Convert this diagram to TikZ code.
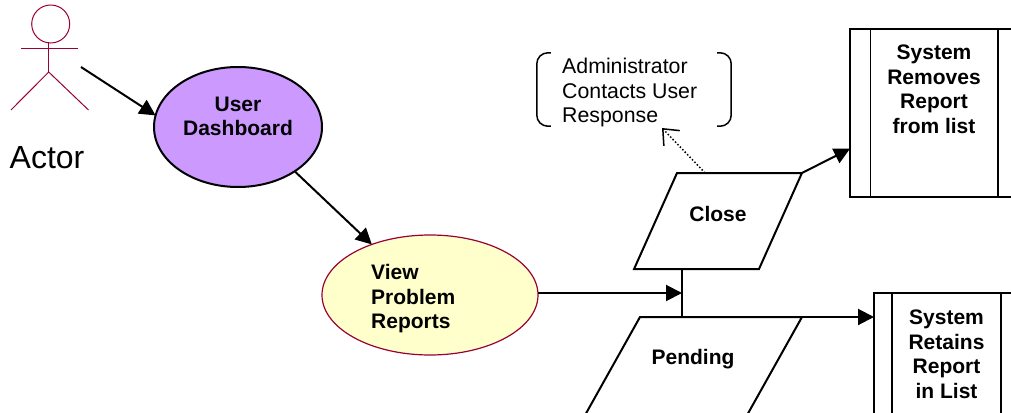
\documentclass[tikz,border=0pt]{standalone}
\usepackage{fontspec}
\setmainfont{Liberation Sans}
\usetikzlibrary{positioning, arrows.meta, shapes.geometric}
\definecolor{lilac}{HTML}{CC99FF}
\definecolor{paleyellow}{HTML}{FFFFCC}
\definecolor{crimson}{HTML}{990033}
\tikzset{arrw/.style={line width=2pt, -{Triangle[length=16pt,width=16pt]}}}
\tikzset{dotarrw/.style={line width=1.5pt, dotted, -{Straight Barb[length=13pt,width=22pt]}}}
\tikzset{plainline/.style={line width=2pt}}
\tikzset{stickman/.style={draw=crimson, line width=1pt}}
\tikzset{usecase/.style={draw, ellipse, inner sep=0pt, outer sep=0pt}}
\tikzset{para/.style={draw, trapezium, line width=2pt, inner sep=0pt, outer sep=0pt, fill=white, text depth=0pt}}
\tikzset{procbox/.style={draw, rectangle, line width=2pt, inner sep=0pt, outer sep=0pt, minimum width=#1, minimum height=168pt}}
\tikzset{boldtxt/.style={font=\fontsize{21}{24.5}\selectfont\bfseries, align=center, inner sep=0pt}}
\tikzset{plaintxt/.style={font=\fontsize{21.3}{24.5}\selectfont, align=left, inner sep=0pt}}

\begin{document}
\begin{tikzpicture}[x=1pt, y=-1pt]
    \useasboundingbox (0,0) rectangle (1011,412);
    \clip (0,0) rectangle (1011,412);

    % actor
    \node[stickman, circle, minimum size=38pt, inner sep=0pt] (head) at (50.7,24) {};
    \coordinate (neck) at (48.7,42);
    \coordinate (hip) at (48.7,72);
    \coordinate (handl) at (21,49);
    \coordinate (handr) at (78,49);
    \coordinate (footl) at (11,110);
    \coordinate (footr) at (88.5,110);
    \draw[stickman] (neck) -- (hip);
    \draw[stickman] (handl) -- (handr);
    \draw[stickman] (footl) -- (hip) -- (footr);
    \node[font=\fontsize{32}{36}\selectfont, inner sep=0pt] (actor) at (47,158) {Actor};

    % use cases
    \node[usecase, line width=2pt, fill=lilac, minimum width=168pt, minimum height=120pt] (user) at (238,127) {};
    \node[boldtxt] (usertxt) at (238,116.5) {User\\Dashboard};
    \node[usecase, draw=crimson, line width=1.2pt, fill=paleyellow, minimum width=216pt, minimum height=120pt] (view) at (430,295) {};
    \node[boldtxt, align=left, anchor=west] (viewtxt) at (371,299) {View\\Problem\\Reports};

    % decisions
    \node[para, trapezium left angle=65.9, trapezium right angle=114.1, text width=82pt, text height=96pt] (close) at (718,221) {};
    \node[boldtxt] (closetxt) at (718,214) {Close};
    \node[para, trapezium left angle=60.75, trapezium right angle=119.25, text width=78pt, text height=150pt] (pending) at (679,392) {};
    \node[boldtxt] (pendingtxt) at (693,359) {Pending};

    % system steps
    \node[procbox=168pt] (removes) at (934,113) {};
    \draw[line width=1.5pt] (870.5,29) -- (870.5,197);
    \draw[line width=1.5pt] (998,29) -- (998,197);
    \node[boldtxt, below=16pt of removes.north] (removestxt) {System\\Removes\\Report\\from list};
    \node[procbox=145pt] (retains) at (946.5,377) {};
    \draw[line width=1.5pt] (892,293) -- (892,461);
    \draw[line width=1.5pt] (1001,293) -- (1001,461);
    \node[boldtxt, below=17pt of retains.north] (retainstxt) {System\\Retains\\Report\\in List};

    % note
    \node[minimum width=194pt, minimum height=73pt, inner sep=0pt] (note) at (634,89.5) {};
    \node[plaintxt, anchor=west] (notetxt) at (562,92.5) {Administrator\\Contacts User\\Response};
    \draw[line width=1.5pt, rounded corners=11pt] ([xshift=14pt]note.north west) -- (note.north west) -- (note.south west) -- ([xshift=14pt]note.south west);
    \draw[line width=1.5pt, rounded corners=11pt] ([xshift=-14pt]note.north east) -- (note.north east) -- (note.south east) -- ([xshift=-14pt]note.south east);

    % connectors
    \coordinate (actorout) at (81,67);
    \coordinate (join) at (682,293);
    \coordinate (notetip) at (662,128);
    \draw[arrw] (actorout) -- (user.172);
    \draw[arrw] (user.322.5) -- (view.139.6);
    \draw[arrw] (view.east |- join) -- (join);
    \draw[plainline] (join |- close.south) -- (join |- pending.north);
    \draw[arrw] (close.top right corner) -- (removes.203.8);
    \draw[arrw] (pending.top right corner) -- (pending.top right corner -| retains.west);
    \draw[dotarrw] (close.105) -- (notetip);
\end{tikzpicture}
\end{document}
